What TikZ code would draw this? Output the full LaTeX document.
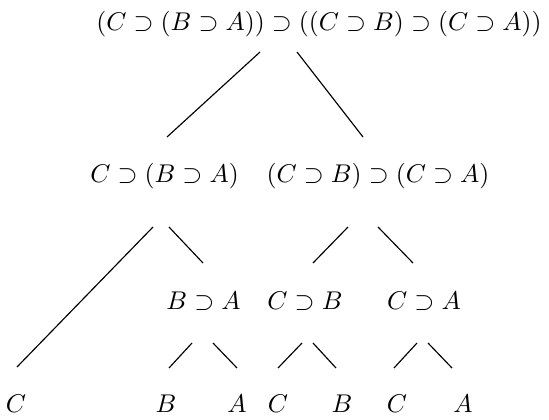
\documentclass[tikz,border=0pt]{standalone}
\begin{document}
\begin{tikzpicture}[x=0.39pt,y=-0.39pt,
  f/.style={inner sep=0pt},
  edge/.style={line width=0.45pt}]
\useasboundingbox (0,0) rectangle (549,419);
% formulas
\node[f,font=\fontsize{10.45}{12}\selectfont] (root) at (319,24.5) {$(C\supset(B\supset A))\supset((C\supset B)\supset(C\supset A))$};
\node[f] (l2a) at (164.5,176.5) {$C\supset(B\supset A)$};
\node[f] (l2b) at (378,176.5) {$(C\supset B)\supset(C\supset A)$};
\node[f] (ba) at (203.5,301) {$B\supset A$};
\node[f] (cb) at (305,301) {$C\supset B$};
\node[f] (ca) at (424,301) {$C\supset A$};
\node[f] (c1) at (16,404) {$C$};
\node[f] (b1) at (166,404) {$B$};
\node[f] (a1) at (237,404) {$A$};
\node[f] (c2) at (278,404) {$C$};
\node[f] (b2) at (342,404) {$B$};
\node[f] (c3) at (397,404) {$C$};
\node[f] (a2) at (463,404) {$A$};
% connector end points
\coordinate (r1) at (260,52);  \coordinate (r2) at (167,137);
\coordinate (r3) at (297,52);  \coordinate (r4) at (363,137);
\coordinate (p1) at (153,227); \coordinate (p2) at (17,367);
\coordinate (p3) at (169,227); \coordinate (p4) at (203,263);
\coordinate (q1) at (348,227); \coordinate (q2) at (313,263);
\coordinate (q3) at (378,227); \coordinate (q4) at (413,263);
\coordinate (s1) at (192,343); \coordinate (s2) at (169,368);
\coordinate (s3) at (213,343); \coordinate (s4) at (237,368);
\coordinate (t1) at (302,343); \coordinate (t2) at (278,368);
\coordinate (t3) at (313,343); \coordinate (t4) at (336,368);
\coordinate (u1) at (417,343); \coordinate (u2) at (394,368);
\coordinate (u3) at (428,343); \coordinate (u4) at (452,368);
% connectors
\draw[edge] (r1) -- (r2);
\draw[edge] (r3) -- (r4);
\draw[edge] (p1) -- (p2);
\draw[edge] (p3) -- (p4);
\draw[edge] (q1) -- (q2);
\draw[edge] (q3) -- (q4);
\draw[edge] (s1) -- (s2);
\draw[edge] (s3) -- (s4);
\draw[edge] (t1) -- (t2);
\draw[edge] (t3) -- (t4);
\draw[edge] (u1) -- (u2);
\draw[edge] (u3) -- (u4);
\end{tikzpicture}
\end{document}
